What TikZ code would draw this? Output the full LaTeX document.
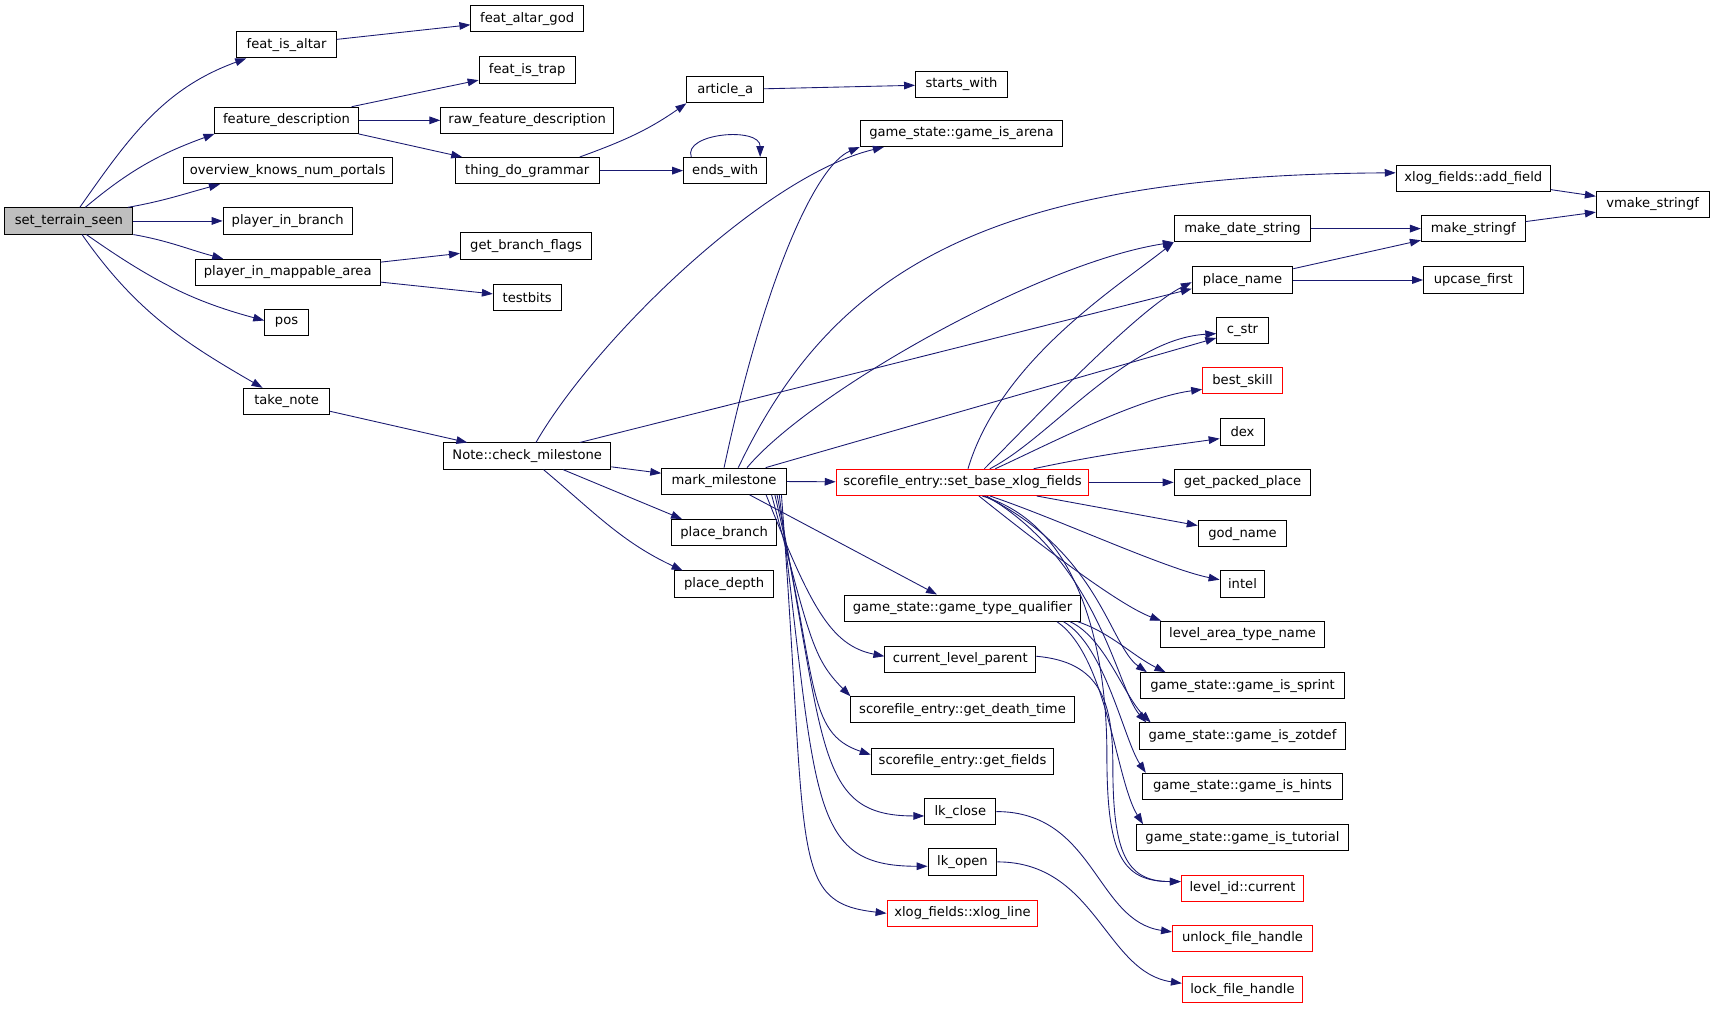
\documentclass[tikz,border=0pt]{standalone}
\usepackage{fontspec}
\setmainfont{DejaVu Sans}
\usetikzlibrary{arrows.meta}
\definecolor{edgeblue}{RGB}{25,25,112}
\definecolor{rootgray}{RGB}{191,191,191}
\begin{document}
\begin{tikzpicture}[x=1pt,y=1pt,
fun/.style={draw,line width=0.9pt,rectangle,minimum height=24pt,minimum width=#1pt,inner xsep=2pt,inner ysep=0pt,font=\fontsize{12}{14}\selectfont},
redfun/.style={fun=#1,draw=red},
rootfun/.style={fun=#1,fill=rootgray},
call/.style={draw=edgeblue,line width=0.8pt,-{Triangle[length=10pt,width=7pt]}}]
\useasboundingbox (0,0) rectangle (1568,-922);
\node[rootfun=117] (sts) at (63,-202) {set\_terrain\_seen};
\node[fun=91] (fia) at (262,-41) {feat\_is\_altar};
\node[fun=103] (fag) at (482,-17) {feat\_altar\_god};
\node[fun=131] (fd) at (262,-110) {feature\_description};
\node[fun=88] (fit) at (482,-64) {feat\_is\_trap};
\node[fun=158] (rfd) at (482,-110) {raw\_feature\_description};
\node[fun=132] (tdg) at (482,-156) {thing\_do\_grammar};
\node[fun=191] (okp) at (263,-156) {overview\_knows\_num\_portals};
\node[fun=118] (pib) at (263,-202) {player\_in\_branch};
\node[fun=169] (pma) at (263,-249) {player\_in\_mappable\_area};
\node[fun=120] (gbf) at (481,-225) {get\_branch\_flags};
\node[fun=62] (tb) at (482,-272) {testbits};
\node[fun=40] (pos) at (262,-295) {pos};
\node[fun=79] (tn) at (262,-367) {take\_note};
\node[fun=153] (ncm) at (482,-417) {Note::check\_milestone};
\node[fun=70] (aa) at (663,-82) {article\_a};
\node[fun=76] (ew) at (663,-156) {ends\_with};
\node[fun=84] (sw) at (879,-77) {starts\_with};
\node[fun=185] (gia) at (879,-122) {game\_state::game\_is\_arena};
\node[fun=114] (mm) at (662,-440) {mark\_milestone};
\node[fun=96] (pb) at (662,-487) {place\_branch};
\node[fun=91] (pd) at (662,-534) {place\_depth};
\node[redfun=231] (sbx) at (880,-441) {scorefile\_entry::set\_base\_xlog\_fields};
\node[fun=216] (gtq) at (880,-556) {game\_state::game\_type\_qualifier};
\node[fun=138] (clp) at (878,-603) {current\_level\_parent};
\node[fun=204] (gdt) at (880,-649) {scorefile\_entry::get\_death\_time};
\node[fun=167] (gf) at (880,-696) {scorefile\_entry::get\_fields};
\node[fun=65] (lkc) at (878,-742) {lk\_close};
\node[fun=63] (lko) at (880,-788) {lk\_open};
\node[redfun=138] (xl) at (880,-835) {xlog\_fields::xlog\_line};
\node[fun=141] (af) at (1347,-163) {xlog\_fields::add\_field};
\node[fun=103] (vms) at (1511,-187) {vmake\_stringf};
\node[fun=125] (mds) at (1136,-209) {make\_date\_string};
\node[fun=95] (msf) at (1347,-209) {make\_stringf};
\node[fun=92] (pn) at (1136,-256) {place\_name};
\node[fun=91] (uf) at (1347,-256) {upcase\_first};
\node[fun=47] (cs) at (1136,-302) {c\_str};
\node[redfun=73] (bs) at (1136,-348) {best\_skill};
\node[fun=41] (dex) at (1136,-395) {dex};
\node[fun=125] (gpp) at (1136,-441) {get\_packed\_place};
\node[fun=81] (gn) at (1136,-488) {god\_name};
\node[fun=41] (intl) at (1136,-534) {intel};
\node[fun=150] (lat) at (1136,-580) {level\_area\_type\_name};
\node[fun=186] (gis) at (1136,-627) {game\_state::game\_is\_sprint};
\node[fun=189] (giz) at (1136,-673) {game\_state::game\_is\_zotdef};
\node[fun=182] (gih) at (1136,-719) {game\_state::game\_is\_hints};
\node[fun=193] (git) at (1136,-766) {game\_state::game\_is\_tutorial};
\node[redfun=112] (lic) at (1136,-812) {level\_id::current};
\node[redfun=128] (ufh) at (1136,-858) {unlock\_file\_handle};
\node[redfun=110] (lfh) at (1136,-905) {lock\_file\_handle};
\draw[call] ([xshift=10pt]sts.north) to[out=55,in=200] ([xshift=9pt]fia.south west);
\draw[call] ([xshift=15pt]sts.north) to[out=40,in=200] (fd.south west);
\draw[call] ([xshift=-5pt]sts.north east) to[out=10,in=195] ([xshift=34pt]okp.south west);
\draw[call] (sts) -- (pib);
\draw[call] (sts.south east) to[out=-10,in=165] ([xshift=26pt]pma.north west);
\draw[call] ([xshift=16pt]sts.south) to[out=-35,in=165] ([yshift=2pt]pos.west);
\draw[call] ([xshift=12pt]sts.south) to[out=-55,in=150] ([xshift=18pt]tn.north west);
\draw[call] (fia) -- (fag);
\draw[call] (fd) -- (fit);
\draw[call] (fd) -- (rfd);
\draw[call] (fd.south east) -- ([xshift=7pt]tdg.north west);
\draw[call] (pma) -- (gbf);
\draw[call] (pma) -- (tb);
\draw[call] ([xshift=48pt]tdg.north) to[out=20,in=215] (aa.south west);
\draw[call] (tdg) -- (ew);
\draw[call] (aa) -- (sw);
\draw[call] ([xshift=-31pt]ew.north) .. controls +(-8,22) and +(0,28) .. ([xshift=32pt]ew.north);
\draw[call] (tn) -- (ncm);
\draw[call] ([xshift=8pt]ncm.north) .. controls +(55,95) and +(-109,-26) .. ([xshift=22pt]gia.south west);
\draw[call] ([xshift=48pt]ncm.north) -- ([yshift=-8pt]pn.west);
\draw[call] (ncm) -- (mm);
\draw[call] ([xshift=33pt]ncm.south) -- ([xshift=10pt]pb.north west);
\draw[call] ([xshift=15pt]ncm.south) to[out=-40,in=155] ([xshift=8pt]pd.north west);
\draw[call] (mm.north) .. controls +(38,178) and +(-39,-16) .. (gia.south west);
\draw[call] ([xshift=13pt]mm.north) .. controls +(85,178) and +(-377,-2) .. ([yshift=5pt]af.west);
\draw[call] ([xshift=21pt]mm.north) .. controls +(57,68) and +(-124,-19) .. (mds.south west);
\draw[call] ([xshift=38pt]mm.north) -- ([yshift=-7pt]cs.west);
\draw[call] (mm) -- (sbx);
\draw[call] (mm) -- (gtq);
\draw[call] ([xshift=-19pt]mm.south east) .. controls +(40,-100) and +(-50,10) .. ([yshift=3pt]clp.west);
\draw[call] ([xshift=-14pt]mm.south east) .. controls +(35,-130) and +(-35,35) .. (gdt.north west);
\draw[call] ([xshift=-11pt]mm.south east) .. controls +(40,-170) and +(-60,20) .. ([yshift=6pt]gf.west);
\draw[call] ([xshift=-9pt]mm.south east) .. controls +(45,-230) and +(-100,0) .. ([yshift=-4pt]lkc.west);
\draw[call] ([xshift=-7pt]mm.south east) .. controls +(35,-280) and +(-110,0) .. ([yshift=-4pt]lko.west);
\draw[call] ([xshift=-5pt]mm.south east) .. controls +(25,-330) and +(-90,10) .. (xl.west);
\draw[call] ([xshift=5pt]sbx.north) .. controls +(30,100) and +(-50,-40) .. (mds.south west);
\draw[call] ([xshift=20pt]sbx.north) .. controls +(45,45) and +(-50,-25) .. ([yshift=-2pt]pn.west);
\draw[call] ([xshift=25pt]sbx.north) .. controls +(55,28) and +(-83,-5) .. ([yshift=-3pt]cs.west);
\draw[call] ([xshift=30pt]sbx.north) .. controls +(40,18) and +(-60,-8) .. ([yshift=-8pt]bs.west);
\draw[call] ([xshift=65pt]sbx.north) to[out=12,in=188] ([yshift=-6pt]dex.west);
\draw[call] (sbx) -- (gpp);
\draw[call] (sbx) -- (gn);
\draw[call] ([xshift=25pt]sbx.south) .. controls +(60,-20) and +(-50,10) .. ([yshift=4pt]intl.west);
\draw[call] ([xshift=15pt]sbx.south) .. controls +(50,-40) and +(-40,15) .. ([xshift=1pt]lat.north west);
\draw[call] ([xshift=20pt]sbx.south) .. controls +(105,-51) and +(-34,24) .. ([xshift=6pt]gis.north west);
\draw[call] ([xshift=22pt]sbx.south) .. controls +(103,-61) and +(-27,31) .. ([xshift=7pt]giz.north west);
\draw[call] ([xshift=18pt]sbx.south) .. controls +(100,-30) and +(0,70) .. +(114,-236) .. controls +(0,-90) and +(-55,0) .. ([yshift=6pt]lic.west);
\draw[call] ([xshift=-3pt]gtq.south east) .. controls +(30,-10) and +(-30,15) .. ([xshift=23pt]gis.north west);
\draw[call] ([xshift=-10pt]gtq.south east) .. controls +(32,-15) and +(-25,25) .. ([xshift=11pt]giz.north west);
\draw[call] ([xshift=-16pt]gtq.south east) .. controls +(38,-22) and +(-20,30) .. ([xshift=3pt]gih.north west);
\draw[call] ([xshift=-22pt]gtq.south east) .. controls +(46,-32) and +(-25,40) .. ([xshift=6pt]git.north west);
\draw[call] ([yshift=3pt]clp.east) .. controls +(58,-5) and +(0,60) .. +(70,-100) .. controls +(0,-80) and +(-50,0) .. ([yshift=6pt]lic.west);
\draw[call] (lkc.east) .. controls +(90,0) and +(-70,10) .. ([yshift=6pt]ufh.west);
\draw[call] (lko.east) .. controls +(90,0) and +(-70,10) .. ([yshift=6pt]lfh.west);
\draw[call] (mds) -- (msf);
\draw[call] (pn) -- (msf);
\draw[call] (pn) -- (uf);
\draw[call] (msf) -- (vms);
\draw[call] (af) -- (vms);
\end{tikzpicture}
\end{document}
